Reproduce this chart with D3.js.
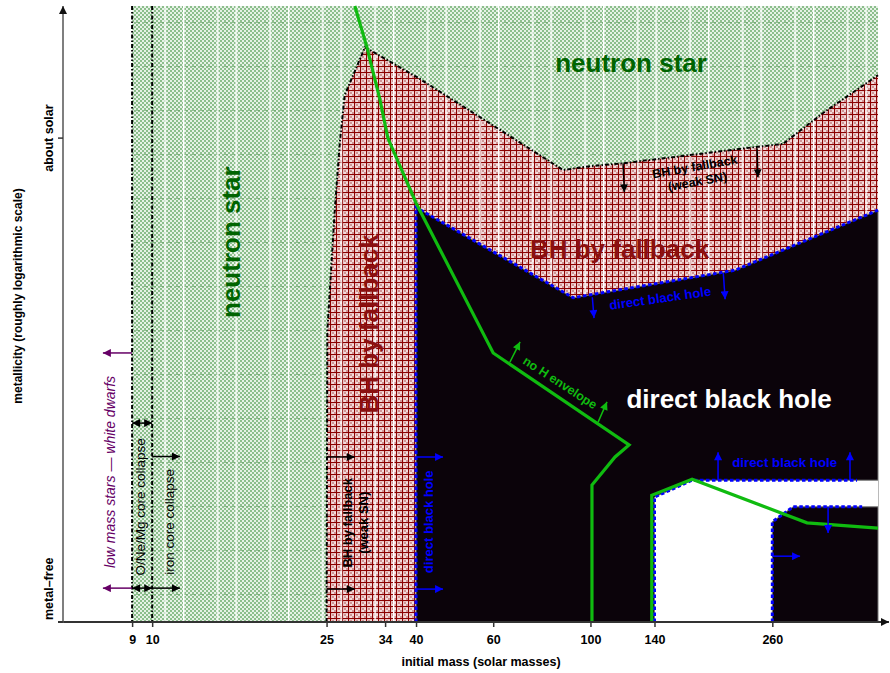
<!DOCTYPE html>
<html><head><meta charset="utf-8">
<script src="https://cdn.jsdelivr.net/npm/d3@7"></script>
<style>
body{margin:0;background:#fff}
svg{display:block;font-family:"Liberation Sans",Arial,Helvetica,sans-serif}
</style>
</head><body>
<svg id="c" width="890" height="673"></svg>
<script>
// ---------------- data (mass in solar masses, metallicity index: 0 = metal-free, 1 = about solar) ----------------
const massTicks = [9, 10, 25, 34, 40, 60, 100, 140, 260];
const metalTickValues = [0, 1];
const metalTickLabels = ["metal\u2013free", "about solar"];
const massDomain = [6.26, 453];
const metalDomain = [0, 1.273];
const collapseLimits = [9, 10];               // white dwarf / O-Ne-Mg / iron core collapse limits
const neutronStarFrom = 9;

const fallbackBoundary = [[25,0],[25.1,0.601],[26.1,0.851],[26.8,0.990],[27.5,1.089],[30.6,1.188],[40.2,1.126],[62.2,1.017],[86.6,0.934],[99.8,0.942],[118.7,0.948],[235,0.981],[275,0.988],[339.5,1.052],[453,1.130]];
const directBHBoundary = [[40,0],[40,0.857],[91.3,0.670],[213.8,0.727],[453,0.851]];
const pairUpperBoundary = [[140,0],[140,0.258],[170.6,0.293],[405.8,0.293]];
const pairLowerBoundary = [[260,0],[260,0.207],[290,0.238],[416.8,0.238]];
const noHEnvelopeLine = [[29.0,1.273],[30.9,1.188],[33.1,1.079],[34.5,1.0],[40.0,0.866],[60,0.556],[122.5,0.366],[113.8,0.341],[100.8,0.283],[100.8,0]];
const noHEnvelopeLine2 = [[138,0],[138,0.262],[170.6,0.295],[312,0.205],[453,0.194]];

// ---------------- setup ----------------
const svg = d3.select("#c");
const x = d3.scaleLog().domain(massDomain).range([63, 878]);
const y = d3.scaleLinear().domain(metalDomain).range([622, 6]);
const line = d3.line().x(d => x(d[0])).y(d => y(d[1]));
const xMax = massDomain[1], zTop = metalDomain[1];

const defs = svg.append("defs");
// green checker
const gp = defs.append("pattern").attr("id","greenChk").attr("patternUnits","userSpaceOnUse").attr("width",4).attr("height",4);
gp.append("rect").attr("width",4).attr("height",4).attr("fill","#e6f2e6");
gp.append("rect").attr("width",2).attr("height",2).attr("fill","#8cbe8c");
gp.append("rect").attr("x",2).attr("y",2).attr("width",2).attr("height",2).attr("fill","#8cbe8c");
// faint dashed green horizontal lines
const gh = defs.append("pattern").attr("id","greenH").attr("patternUnits","userSpaceOnUse").attr("width",8).attr("height",44).attr("y",22);
gh.append("rect").attr("width",4).attr("height",1).attr("fill","#5f9f5f").attr("opacity",0.6);
// red grid
const rp = defs.append("pattern").attr("id","redGrid").attr("patternUnits","userSpaceOnUse").attr("width",6).attr("height",6);
rp.append("rect").attr("width",6).attr("height",6).attr("fill","#f4dcdc");
rp.append("rect").attr("x",2).attr("y",2).attr("width",2).attr("height",2).attr("fill","#cf9494");
rp.append("rect").attr("x",4).attr("y",4).attr("width",2).attr("height",2).attr("fill","#cf9494");
rp.append("rect").attr("width",6).attr("height",1.1).attr("fill","#8b0000");
rp.append("rect").attr("width",1.1).attr("height",6).attr("fill","#8b0000");
// white vertical lines
const wv = defs.append("pattern").attr("id","whiteV").attr("patternUnits","userSpaceOnUse").attr("width",52.5).attr("height",10).attr("x",183 % 52.5);
wv.append("rect").attr("width",1.4).attr("height",10).attr("fill","#fff");
wv.append("rect").attr("x",34).attr("width",1.4).attr("height",10).attr("fill","#fff");

function marker(id, color){
  defs.append("marker").attr("id",id).attr("viewBox","0 0 10 10").attr("refX",10).attr("refY",5)
    .attr("markerUnits","userSpaceOnUse").attr("markerWidth",10).attr("markerHeight",8).attr("orient","auto-start-reverse")
    .append("path").attr("d","M0,0L10,5L0,10z").attr("fill",color);
}
marker("ah-black","#000"); marker("ah-blue","#0000ff"); marker("ah-purple","#660066"); marker("ah-green","#10bb10"); marker("ah-axis","#111");

// ---------------- regions ----------------
const nsRect = [[neutronStarFrom,0],[neutronStarFrom,zTop],[xMax,zTop],[xMax,0]];
svg.append("path").attr("d", line(nsRect)+"Z").attr("fill","url(#greenChk)");
svg.append("path").attr("d", line(nsRect)+"Z").attr("fill","url(#greenH)");

const redPoly = fallbackBoundary.concat([[xMax,0]]);
svg.append("path").attr("d", line(redPoly)+"Z").attr("fill","url(#redGrid)");
svg.append("path").attr("d", line(nsRect)+"Z").attr("fill","url(#whiteV)");

svg.append("path").attr("d", line(fallbackBoundary)).attr("fill","none").attr("stroke","#000")
  .attr("stroke-width",2).attr("stroke-dasharray","4,2,1.5,2");

const blackPoly = directBHBoundary.concat([[xMax,0]]);
svg.append("path").attr("d", line(blackPoly)+"Z").attr("fill","#0b030a").attr("stroke","#777").attr("stroke-width",1);

const upperEnd = pairUpperBoundary[pairUpperBoundary.length-1][1];
const lowerEnd = pairLowerBoundary[pairLowerBoundary.length-1][1];
const whitePoly = pairUpperBoundary.concat([[xMax,upperEnd],[xMax,lowerEnd]], pairLowerBoundary.slice().reverse());
svg.append("path").attr("d", line(whitePoly)+"Z").attr("fill","#fff");
[pairUpperBoundary.concat([[xMax,upperEnd]]), pairLowerBoundary.concat([[xMax,lowerEnd]])].forEach(b=>{
  svg.append("path").attr("d", line(b)).attr("fill","none").attr("stroke","#777").attr("stroke-width",1);
});

[directBHBoundary, pairUpperBoundary, pairLowerBoundary].forEach(b=>{
  svg.append("path").attr("d", line(b)).attr("fill","none").attr("stroke","#0000ff")
    .attr("stroke-width",3).attr("stroke-dasharray","3.5,2.5");
});

[noHEnvelopeLine, noHEnvelopeLine2].forEach(b=>{
  svg.append("path").attr("d", line(b)).attr("fill","none").attr("stroke","#10bb10")
    .attr("stroke-width",3.2).attr("stroke-linejoin","miter");
});

collapseLimits.forEach(m=>{
  svg.append("line").attr("x1",x(m)).attr("x2",x(m)).attr("y1",y(zTop)).attr("y2",y(0))
    .attr("stroke","#000").attr("stroke-width",2).attr("stroke-dasharray","4,2,1.5,2");
});

// ---------------- axes ----------------
const xAxis = d3.axisBottom(x).tickValues(massTicks).tickFormat(d3.format("d")).tickSize(5).tickPadding(8.5);
const gx = svg.append("g").attr("transform","translate(0,622)").call(xAxis);
gx.select(".domain").remove();
gx.selectAll(".tick line").attr("stroke","#333").attr("stroke-width",1.5);
gx.selectAll(".tick text").attr("font-size",12.5).attr("font-weight","bold").attr("fill","#000")
  .attr("font-family","Liberation Sans, Arial, sans-serif");
svg.append("line").attr("x1",58).attr("x2",889).attr("y1",622).attr("y2",622)
  .attr("stroke","#333").attr("stroke-width",2).attr("marker-end","url(#ah-axis)");
svg.append("line").attr("x1",63).attr("x2",63).attr("y1",623).attr("y2",6)
  .attr("stroke","#555").attr("stroke-width",1.5).attr("marker-end","url(#ah-axis)");
metalTickValues.forEach((v,i)=>{
  svg.append("line").attr("x1",58).attr("x2",63).attr("y1",y(v)).attr("y2",y(v)).attr("stroke","#333").attr("stroke-width",1.5);
  const t = svg.append("text").attr("font-size",12.5).attr("font-weight","bold").attr("dominant-baseline","central")
    .text(metalTickLabels[i]);
  if (v === 0) t.attr("text-anchor","start").attr("transform",`translate(49,${y(v)-2}) rotate(-90)`);
  else t.attr("text-anchor","middle").attr("transform",`translate(49,${y(v)}) rotate(-90)`);
});
svg.append("text").attr("font-size",12.5).attr("font-weight","bold").attr("text-anchor","middle")
  .attr("dominant-baseline","central").attr("x",481).attr("y",662).text("initial mass (solar masses)");
svg.append("text").attr("font-size",12).attr("font-weight","bold").attr("text-anchor","middle")
  .attr("dominant-baseline","central").attr("transform","translate(18,296) rotate(-90)")
  .text("metallicity (roughly logarithmic scale)");

// ---------------- arrows ----------------
const arrows = [
  {a:[9,0.556], b:[7.72,0.556], c:"purple"}, {a:[9,0.070], b:[7.72,0.070], c:"purple"},
  {a:[9,0.411], b:[10,0.411], c:"black", both:true}, {a:[9,0.070], b:[10,0.070], c:"black", both:true},
  {a:[10,0.342], b:[11.57,0.342], c:"black"}, {a:[10,0.070], b:[11.57,0.070], c:"black"},
  {a:[25,0.341], b:[29,0.341], c:"black"}, {a:[25,0.068], b:[29,0.068], c:"black"},
  {a:[40,0.341], b:[46.1,0.341], c:"blue"}, {a:[40,0.068], b:[46.1,0.068], c:"blue"},
  {a:[118.7,0.948], b:[119.5,0.888], c:"black"}, {a:[240,0.979], b:[241,0.919], c:"black"},
  {a:[101,0.671], b:[101.9,0.628], c:"blue"}, {a:[201,0.721], b:[202.9,0.667], c:"blue"},
  {a:[65.5,0.537], b:[69.1,0.579], c:"green"}, {a:[104.1,0.413], b:[109.1,0.455], c:"green"},
  {a:[195.5,0.293], b:[195.5,0.351], c:"blue"}, {a:[391,0.293], b:[391,0.351], c:"blue"},
  {a:[260,0.136], b:[300.8,0.136], c:"blue"},
  {a:[348.5,0.238], b:[348.5,0.184], c:"blue"}
];
const colMap = {purple:"#660066", black:"#000", blue:"#0000ff", green:"#10bb10"};
arrows.forEach(d=>{
  const l = svg.append("line").attr("x1",x(d.a[0])).attr("y1",y(d.a[1])).attr("x2",x(d.b[0])).attr("y2",y(d.b[1]))
    .attr("stroke",colMap[d.c]).attr("stroke-width",1.5).attr("marker-end",`url(#ah-${d.c})`);
  if (d.both) l.attr("marker-start",`url(#ah-${d.c})`);
});

// ---------------- labels ----------------
function label(m, z, txt, opts){
  const t = svg.append("text").attr("text-anchor","middle").attr("dominant-baseline","central")
    .attr("font-size",opts.size).attr("font-weight",opts.weight||"normal").attr("fill",opts.color)
    .attr("font-style",opts.italic?"italic":"normal")
    .attr("transform",`translate(${x(m)},${y(z)}) rotate(${opts.rot||0})`);
  if (Array.isArray(txt)) {
    txt.forEach((s,i)=>t.append("tspan").attr("x",0).attr("dy", i===0 ? `${-(txt.length-1)*0.6}em` : "1.2em").text(s));
  } else t.text(txt);
}
label(123.8, 1.155, "neutron star", {size:26, weight:"bold", color:"#006400"});
label(15.13, 0.785, "neutron star", {size:26, weight:"bold", color:"#006400", rot:-90});
label(31.2, 0.616, "BH by fallback", {size:26, weight:"bold", color:"#8b1010", rot:-90});
label(116.5, 0.771, "BH by fallback", {size:26, weight:"bold", color:"#8b1010"});
label(207.1, 0.461, "direct black hole", {size:26, weight:"bold", color:"#ffffff"});

label(8.01, 0.310, "low mass stars \u2014 white dwarfs", {size:14, color:"#660066", italic:true, rot:-90});
label(9.43, 0.238, "O/Ne/Mg core collapse", {size:13.5, color:"#000", rot:-90});
label(10.98, 0.207, "iron core collapse", {size:13.5, color:"#000", rot:-90});
label(29.05, 0.205, ["BH by fallback","(weak SN)"], {size:13, weight:"bold", color:"#000", rot:-90});
label(42.6, 0.207, "direct black hole", {size:13, weight:"bold", color:"#0000ff", rot:-90});
label(174.2, 0.925, ["BH by fallback","(weak SN)"], {size:12.5, weight:"bold", color:"#000", rot:-10});
label(144.2, 0.669, "direct black hole", {size:13, weight:"bold", color:"#0000ff", rot:-8});
label(85.2, 0.494, "no H envelope", {size:12.5, weight:"bold", color:"#10bb10", rot:33});
label(277.4, 0.329, "direct black hole", {size:13.3, weight:"bold", color:"#0000ff"});
</script>
</body></html>
